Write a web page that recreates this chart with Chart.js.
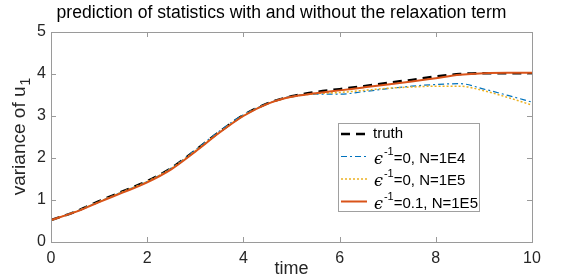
<!DOCTYPE html>
<html>
<head>
<meta charset="utf-8">
<script src="https://cdn.jsdelivr.net/npm/chart.js@4.4.0/dist/chart.umd.min.js"></script>
<style>
    html, body { margin: 0; padding: 0; background: #fff; }
    #wrap { width: 563px; height: 278px; position: relative; }
</style>
</head>
<body>
<div id="wrap"><canvas id="lineChart" width="563" height="278"></canvas></div>
<script>
// data
const times = [0, 0.5, 1, 1.5, 2, 2.5, 3, 3.5, 4, 4.5, 5, 5.5, 6, 6.5, 7, 7.5, 8, 8.5, 9, 9.5, 10];
const truth = [0.52, 0.72, 0.97, 1.21, 1.45, 1.76, 2.18, 2.62, 3.02, 3.30, 3.47, 3.57, 3.64, 3.71, 3.79, 3.86, 3.94, 4.00, 4.02, 4.02, 4.02];
const noRelaxN1E4 = [0.52, 0.72, 0.96, 1.20, 1.44, 1.76, 2.19, 2.64, 3.03, 3.30, 3.47, 3.52, 3.52, 3.58, 3.65, 3.71, 3.75, 3.77, 3.64, 3.49, 3.33];
const noRelaxN1E5 = [0.52, 0.72, 0.96, 1.20, 1.44, 1.75, 2.17, 2.61, 3.01, 3.29, 3.46, 3.53, 3.56, 3.61, 3.66, 3.69, 3.71, 3.71, 3.60, 3.44, 3.26];
const relaxN1E5 = [0.52, 0.71, 0.95, 1.18, 1.42, 1.73, 2.15, 2.60, 3.00, 3.29, 3.46, 3.54, 3.61, 3.68, 3.75, 3.82, 3.90, 3.98, 4.02, 4.03, 4.03];

const xTicks = [0, 2, 4, 6, 8, 10];
const yTicks = [0, 1, 2, 3, 4, 5];

// legend text: [epsilon, superscript, rest]
const legendLabels = [
    null,
    ['\u03f5', '-1', '=0, N=1E4'],
    ['\u03f5', '-1', '=0, N=1E5'],
    ['\u03f5', '-1', '=0.1, N=1E5']
];

const FONT = '"Liberation Sans", Arial, Helvetica, sans-serif';
const AXIS_COLOR = '#262626';

function toPoints(values) {
    return values.map((v, i) => ({ x: times[i], y: v }));
}

// box, inward ticks, title, y label and legend in MATLAB style
const matlabDecor = {
    id: 'matlabDecor',
    afterDatasetsDraw(chart) {
        const ctx = chart.ctx;
        const a = chart.chartArea;
        const xs = chart.scales.x;
        const ys = chart.scales.y;

        ctx.save();
        ctx.strokeStyle = '#9a9a9a';
        ctx.lineWidth = 1;
        ctx.setLineDash([]);
        ctx.strokeRect(a.left + 0.5, a.top + 0.5, a.right - a.left, a.bottom - a.top);

        ctx.beginPath();
        xTicks.forEach(t => {
            const px = Math.round(xs.getPixelForValue(t)) + 0.5;
            ctx.moveTo(px, a.bottom); ctx.lineTo(px, a.bottom - 5);
            ctx.moveTo(px, a.top); ctx.lineTo(px, a.top + 5);
        });
        yTicks.forEach(t => {
            const py = Math.round(ys.getPixelForValue(t)) + 0.5;
            ctx.moveTo(a.left, py); ctx.lineTo(a.left + 5, py);
            ctx.moveTo(a.right, py); ctx.lineTo(a.right - 5, py);
        });
        ctx.stroke();

        // title
        ctx.fillStyle = '#000';
        ctx.font = '17.6px ' + FONT;
        ctx.textAlign = 'center';
        ctx.textBaseline = 'middle';
        ctx.fillText('prediction of statistics with and without the relaxation term', (a.left + a.right) / 2 - 10, 13);

        // y axis label with subscript
        ctx.save();
        ctx.translate(20, (a.top + a.bottom) / 2);
        ctx.rotate(-Math.PI / 2);
        ctx.fillStyle = AXIS_COLOR;
        ctx.font = '19px ' + FONT;
        const main = 'variance of u';
        const wMain = ctx.measureText(main).width;
        ctx.font = '14px ' + FONT;
        const wSub = ctx.measureText('1').width;
        const x0 = -(wMain + wSub) / 2;
        ctx.textAlign = 'left';
        ctx.textBaseline = 'middle';
        ctx.font = '19px ' + FONT;
        ctx.fillText(main, x0, 0);
        ctx.font = '14px ' + FONT;
        ctx.fillText('1', x0 + wMain + 1, 6);
        ctx.restore();

        // legend
        const boxL = a.right - 194, boxR = a.right - 53;
        const boxT = a.bottom - 119, boxB = a.bottom - 31;
        ctx.fillStyle = '#fff';
        ctx.fillRect(boxL, boxT, boxR - boxL, boxB - boxT);
        ctx.strokeStyle = '#a0a0a0';
        ctx.strokeRect(boxL + 0.5, boxT + 0.5, boxR - boxL, boxB - boxT);

        chart.data.datasets.forEach((ds, i) => {
            const rowY = boxT + 11 + i * 22.5;
            ctx.save();
            ctx.strokeStyle = ds.borderColor;
            ctx.lineWidth = ds.borderWidth;
            ctx.setLineDash(ds.borderDash || []);
            ctx.beginPath();
            ctx.moveTo(boxL + 3, rowY);
            ctx.lineTo(boxL + 29, rowY);
            ctx.stroke();
            ctx.restore();

            let tx = boxL + 36;
            ctx.fillStyle = '#000';
            ctx.textAlign = 'left';
            ctx.textBaseline = 'middle';
            const parts = legendLabels[i];
            if (!parts) {
                ctx.font = '15px ' + FONT;
                ctx.fillText(ds.label, tx - 1, rowY);
                return;
            }
            ctx.font = 'italic 16px "DejaVu Serif", serif';
            ctx.fillText(parts[0], tx, rowY + 3);
            tx += ctx.measureText(parts[0]).width + 1;
            ctx.font = '11px ' + FONT;
            ctx.fillText(parts[1], tx, rowY - 5);
            tx += ctx.measureText(parts[1]).width;
            ctx.font = '15px ' + FONT;
            ctx.fillText(parts[2], tx, rowY + 2);
        });
        ctx.restore();
    }
};

const ctx = document.getElementById('lineChart').getContext('2d');
new Chart(ctx, {
    type: 'line',
    data: {
        datasets: [
            {
                label: 'truth',
                data: toPoints(truth),
                borderColor: '#000000',
                borderWidth: 2.5,
                borderDash: [9, 6],
                order: 3
            },
            {
                label: '\u03f5\u207b\u00b9=0, N=1E4',
                data: toPoints(noRelaxN1E4),
                borderColor: '#0072BD',
                borderWidth: 1.2,
                borderDash: [6, 3, 2, 3],
                order: 2
            },
            {
                label: '\u03f5\u207b\u00b9=0, N=1E5',
                data: toPoints(noRelaxN1E5),
                borderColor: '#EDB120',
                borderWidth: 1.5,
                borderDash: [2, 2],
                order: 1
            },
            {
                label: '\u03f5\u207b\u00b9=0.1, N=1E5',
                data: toPoints(relaxN1E5),
                borderColor: '#D95319',
                borderWidth: 2,
                borderDash: [],
                order: 0
            }
        ]
    },
    options: {
        responsive: false,
        animation: false,
        devicePixelRatio: 1,
        elements: {
            point: { radius: 0 },
            line: { cubicInterpolationMode: 'monotone', fill: false }
        },
        layout: { padding: { left: 0, right: 31, top: 32, bottom: 0 } },
        plugins: {
            legend: { display: false },
            tooltip: { enabled: false },
            title: { display: false }
        },
        scales: {
            x: {
                type: 'linear',
                min: 0,
                max: 10,
                afterBuildTicks: scale => { scale.ticks = xTicks.map(v => ({ value: v })); },
                afterFit: scale => { scale.height = 36; },
                grid: { display: false, drawTicks: false },
                border: { display: false },
                ticks: {
                    color: AXIS_COLOR,
                    padding: 7,
                    maxRotation: 0,
                    font: { family: FONT, size: 16 }
                },
                title: {
                    display: true,
                    text: 'time',
                    color: AXIS_COLOR,
                    padding: { top: 0, bottom: 0 },
                    font: { family: FONT, size: 18, lineHeight: 1 }
                }
            },
            y: {
                type: 'linear',
                min: 0,
                max: 5,
                afterBuildTicks: scale => { scale.ticks = yTicks.map(v => ({ value: v })); },
                afterFit: scale => { scale.width = 51; },
                grid: { display: false, drawTicks: false },
                border: { display: false },
                ticks: {
                    color: AXIS_COLOR,
                    padding: 5,
                    font: { family: FONT, size: 16 }
                }
            }
        }
    },
    plugins: [matlabDecor]
});
</script>
</body>
</html>
